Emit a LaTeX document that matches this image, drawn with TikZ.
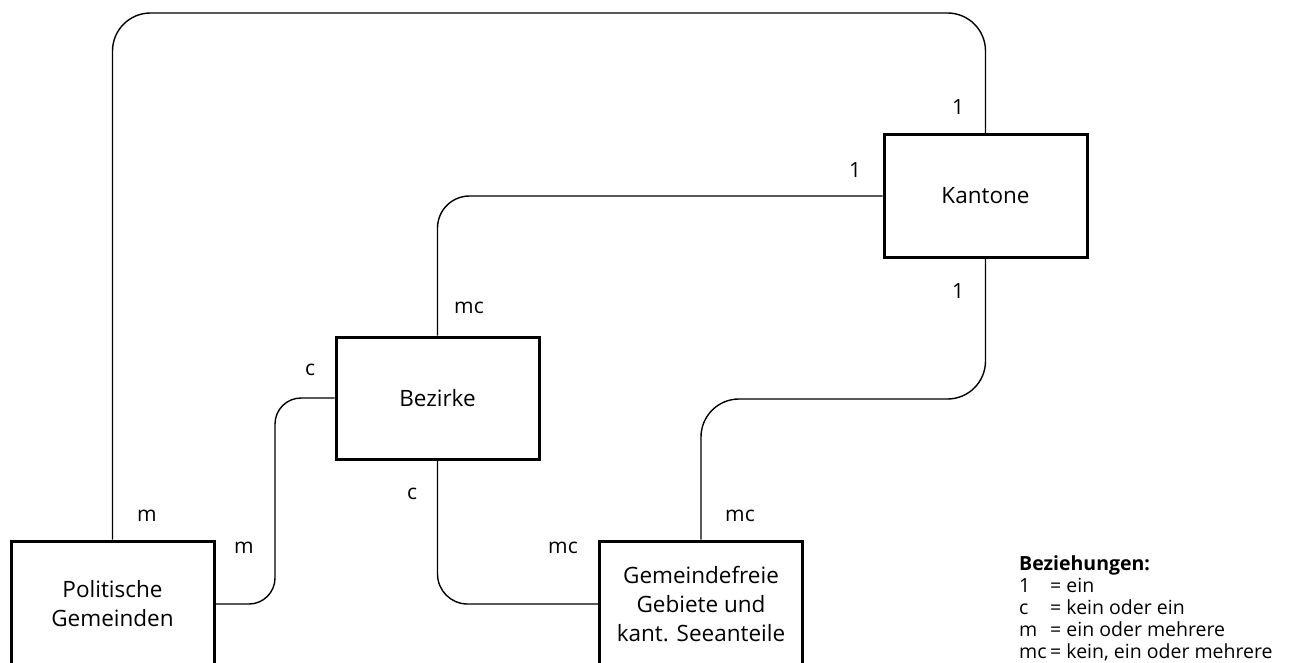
\documentclass[tikz,border=0pt]{standalone}
\usepackage{fontspec}
\setmainfont{Open Sans}
\begin{document}
\begin{tikzpicture}[x=1pt,y=-1pt,
  entity/.style={draw,line width=3pt,minimum width=203pt,align=center,inner sep=0pt,font=\fontsize{22.5}{29}\selectfont},
  conn/.style={line width=1.4pt},
  lbl/.style={inner sep=0pt,font=\fontsize{21}{24}\selectfont},
  leg/.style={inner sep=0pt,anchor=base west,font=\fontsize{19.5}{24}\selectfont}]
\useasboundingbox (0,0) rectangle (1292,663);
\clip (0,0) rectangle (1292,663);
\node[entity,minimum height=122pt] (kant) at (985.5,196) {Kantone};
\node[entity,minimum height=122pt] (bez) at (437.5,398) {Bezirke};
\node[entity,minimum height=126pt] (pol) at (112.5,604) {Politische\\Gemeinden};
\node[entity,minimum height=126pt] (gem) at (701,604) {Gemeindefreie\\Gebiete und\\kant. Seeanteile};
\coordinate (c1) at (500,13);
\coordinate (c3) at (275,500);
\coordinate (c5) at (800,399);
\draw[conn,rounded corners=38pt] (pol.north) |- (c1) -| (kant.north);
\draw[conn,rounded corners=32pt] (kant.west) -| (bez.north);
\draw[conn,rounded corners=26pt] (bez.west) -| (c3) |- (pol.east);
\draw[conn,rounded corners=30pt] (bez.south) |- (gem.west);
\draw[conn,rounded corners=38pt] (kant.south) |- (c5) -| (gem.north);
\node[lbl] (l1) at (958,107) {1};
\node[lbl] (l2) at (855,170) {1};
\node[lbl] (l3) at (958,291) {1};
\node[lbl] (l4) at (469,308) {mc};
\node[lbl] (l5) at (310,370) {c};
\node[lbl] (l6) at (412,494) {c};
\node[lbl] (l7) at (147,516) {m};
\node[lbl] (l8) at (244,548) {m};
\node[lbl] (l9) at (563,548) {mc};
\node[lbl] (l10) at (740,516) {mc};
\node[leg,font=\fontsize{19.5}{24}\selectfont\bfseries] (lh) at (1019,570) {Beziehungen:};
\node[leg] (a1) at (1019,592) {1};
\node[leg] (b1) at (1050,592) {= ein};
\node[leg] (a2) at (1019,614) {c};
\node[leg] (b2) at (1050,614) {= kein oder ein};
\node[leg] (a3) at (1019,636) {m};
\node[leg] (b3) at (1050,636) {= ein oder mehrere};
\node[leg] (a4) at (1019,658) {mc};
\node[leg] (b4) at (1050,658) {= kein, ein oder mehrere};
\end{tikzpicture}
\end{document}
